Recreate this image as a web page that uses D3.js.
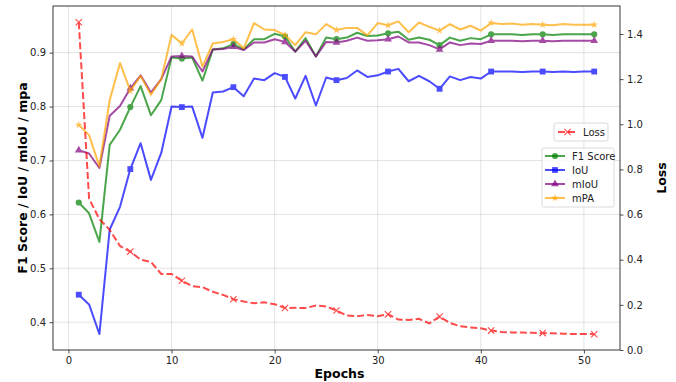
<!DOCTYPE html>
<html>
<head>
<meta charset="utf-8">
<script src="https://cdn.jsdelivr.net/npm/d3@7"></script>
<style>
  body { margin: 0; background: #fff; }
  svg { font-family: "DejaVu Sans", sans-serif; }
</style>
</head>
<body>
<svg id="chart" width="676" height="382"></svg>
<script>
// Data
var epochs = [1,2,3,4,5,6,7,8,9,10,11,12,13,14,15,16,17,18,19,20,21,22,23,24,25,26,
    27,28,29,30,31,32,33,34,35,36,37,38,39,40,41,42,43,44,45,46,47,48,49,50,51];

var f1Score = [0.622,0.602,0.549,0.729,0.757,0.799,0.838,0.784,0.812,0.891,
    0.889,0.891,0.848,0.906,0.908,0.916,0.906,0.925,0.925,0.935,
    0.930,0.902,0.927,0.893,0.928,0.925,0.928,0.937,0.931,0.932,
    0.936,0.939,0.924,0.928,0.924,0.914,0.928,0.922,0.927,0.925,
    0.934,0.934,0.934,0.933,0.934,0.934,0.933,0.934,0.934,0.934,0.934];

var iou = [0.451,0.433,0.378,0.572,0.614,0.684,0.732,0.664,0.714,0.800,
    0.799,0.800,0.742,0.826,0.828,0.836,0.819,0.852,0.849,0.862,
    0.855,0.815,0.857,0.802,0.854,0.849,0.853,0.867,0.855,0.858,
    0.865,0.870,0.847,0.857,0.847,0.833,0.856,0.849,0.855,0.852,
    0.865,0.865,0.865,0.864,0.865,0.865,0.864,0.865,0.864,0.865,0.865];

var miou = [0.719,0.713,0.686,0.783,0.801,0.834,0.858,0.826,0.851,0.893,
    0.894,0.893,0.865,0.906,0.907,0.911,0.905,0.919,0.919,0.925,
    0.920,0.902,0.922,0.893,0.920,0.919,0.922,0.928,0.922,0.923,
    0.925,0.930,0.919,0.919,0.914,0.906,0.919,0.914,0.917,0.916,
    0.922,0.922,0.922,0.921,0.922,0.922,0.921,0.922,0.922,0.922,0.922];

var mpa = [0.766,0.747,0.689,0.812,0.881,0.829,0.857,0.822,0.851,0.933,
    0.917,0.943,0.874,0.917,0.920,0.925,0.908,0.955,0.943,0.942,
    0.933,0.914,0.938,0.934,0.953,0.942,0.946,0.946,0.932,0.955,
    0.951,0.958,0.938,0.956,0.948,0.941,0.953,0.943,0.950,0.941,
    0.955,0.953,0.954,0.952,0.953,0.952,0.951,0.953,0.952,0.952,0.952];

var loss = [1.452,0.670,0.580,0.532,0.461,0.436,0.400,0.390,0.337,0.337,
    0.307,0.283,0.278,0.258,0.244,0.225,0.215,0.207,0.211,0.203,
    0.186,0.187,0.186,0.197,0.193,0.175,0.153,0.150,0.155,0.150,
    0.158,0.135,0.133,0.138,0.118,0.148,0.120,0.105,0.100,0.096,
    0.086,0.080,0.078,0.077,0.076,0.075,0.074,0.072,0.071,0.071,0.070];

var xTicks = [0, 10, 20, 30, 40, 50];
var leftTicks = [0.4, 0.5, 0.6, 0.7, 0.8, 0.9];
var rightTicks = [0.0, 0.2, 0.4, 0.6, 0.8, 1.0, 1.2, 1.4];

var metrics = [
    {name: "F1 Score", values: f1Score, color: "green", symbol: d3.symbolCircle, size: 30},
    {name: "IoU", values: iou, color: "blue", symbol: d3.symbolSquare, size: 34},
    {name: "mIoU", values: miou, color: "purple", symbol: d3.symbolTriangle, size: 26},
    {name: "mPA", values: mpa, color: "orange", symbol: d3.symbolStar, size: 18}
];

// Plot box
var margin = {top: 6, left: 53, right: 56, bottom: 32};
var width = 676 - margin.left - margin.right;
var height = 382 - margin.top - margin.bottom;

var svg = d3.select("#chart");
var g = svg.append("g")
    .attr("transform", `translate(${margin.left}, ${margin.top})`);

var x = d3.scaleLinear().domain([-1.5, 53.5]).range([0, width]);
var y = d3.scaleLinear().domain([0.3484, 0.9866]).range([height, 0]);
var y2 = d3.scaleLinear().domain([0, 1.524]).range([height, 0]);

// grid
g.append("g").selectAll("line").data(xTicks).enter()
    .append("line")
    .attr("x1", d => x(d)).attr("x2", d => x(d))
    .attr("y1", 0).attr("y2", height)
    .attr("stroke", "#b0b0b0").attr("stroke-opacity", 0.35).attr("stroke-width", 1);
g.append("g").selectAll("line").data(leftTicks).enter()
    .append("line")
    .attr("x1", 0).attr("x2", width)
    .attr("y1", d => y(d)).attr("y2", d => y(d))
    .attr("stroke", "#b0b0b0").attr("stroke-opacity", 0.35).attr("stroke-width", 1);

// axes
var xAxis = g.append("g")
    .attr("transform", `translate(0, ${height})`)
    .call(d3.axisBottom(x).tickValues(xTicks).tickSize(3.5).tickPadding(3.5));
var yAxis = g.append("g")
    .call(d3.axisLeft(y).tickValues(leftTicks).tickFormat(d3.format(".1f")).tickSize(3.5).tickPadding(3.5));
var y2Axis = g.append("g")
    .attr("transform", `translate(${width}, 0)`)
    .call(d3.axisRight(y2).tickValues(rightTicks).tickFormat(d3.format(".1f")).tickSize(3.5).tickPadding(3.5));

[xAxis, yAxis, y2Axis].forEach(function(a) {
    a.select(".domain").remove();
    a.selectAll("text").attr("font-size", 10).attr("fill", "#222")
        .attr("font-family", "DejaVu Sans, sans-serif");
    a.selectAll("line").attr("stroke", "#222").attr("stroke-width", 0.8);
});

// metric lines
var line = d3.line()
    .x((d, i) => x(epochs[i]))
    .y(d => y(d));

metrics.forEach(function(m) {
    var s = g.append("g").attr("opacity", 0.7);
    s.append("path")
        .datum(m.values)
        .attr("fill", "none")
        .attr("stroke", m.color)
        .attr("stroke-width", 2)
        .attr("stroke-linejoin", "round")
        .attr("d", line);
    s.selectAll("path.mk")
        .data(m.values.filter((d, i) => i % 5 === 0))
        .enter().append("path")
        .attr("class", "mk")
        .attr("fill", m.color)
        .attr("transform", (d, i) => `translate(${x(epochs[i * 5])}, ${y(d)})`)
        .attr("d", d3.symbol().type(m.symbol).size(m.size));
});

// loss on the twin axis
var lossLine = d3.line()
    .x((d, i) => x(epochs[i]))
    .y(d => y2(d));

var ls = g.append("g").attr("opacity", 0.7);
ls.append("path")
    .datum(loss)
    .attr("fill", "none")
    .attr("stroke", "red")
    .attr("stroke-width", 2)
    .attr("stroke-dasharray", "7,3")
    .attr("d", lossLine);
ls.selectAll("path.mk")
    .data(loss.filter((d, i) => i % 5 === 0))
    .enter().append("path")
    .attr("class", "mk")
    .attr("fill", "none")
    .attr("stroke", "red")
    .attr("stroke-width", 1.1)
    .attr("transform", (d, i) => `translate(${x(epochs[i * 5])}, ${y2(d)})`)
    .attr("d", d3.symbol().type(d3.symbolX).size(28));

// frame
g.append("rect")
    .attr("width", width).attr("height", height)
    .attr("fill", "none").attr("stroke", "#222").attr("stroke-width", 0.9);

// axis labels
svg.append("text")
    .attr("x", margin.left + width / 2 + 3).attr("y", 378)
    .attr("text-anchor", "middle")
    .attr("font-size", 12.5).attr("font-weight", "bold")
    .text("Epochs");
svg.append("text")
    .attr("transform", `translate(27, ${margin.top + height / 2}) rotate(-90)`)
    .attr("text-anchor", "middle")
    .attr("font-size", 12.5).attr("font-weight", "bold")
    .text("F1 Score / IoU / mIoU / mpa");
svg.append("text")
    .attr("transform", `translate(666, ${margin.top + height / 2}) rotate(-90)`)
    .attr("text-anchor", "middle")
    .attr("font-size", 12.5).attr("font-weight", "bold")
    .text("Loss");

// legends
function legendBox(x0, y0, w, h) {
    svg.append("rect")
        .attr("x", x0).attr("y", y0).attr("width", w).attr("height", h)
        .attr("rx", 2)
        .attr("fill", "white").attr("fill-opacity", 0.8)
        .attr("stroke", "#d0d0d0").attr("stroke-width", 0.8);
}

legendBox(554, 123, 54, 18);
var lg1 = svg.append("g").attr("transform", "translate(558, 132)");
lg1.append("line").attr("x1", 0).attr("x2", 19)
    .attr("stroke", "red").attr("stroke-opacity", 0.7)
    .attr("stroke-width", 2).attr("stroke-dasharray", "7,3");
lg1.append("path").attr("transform", "translate(9.5, 0)")
    .attr("d", d3.symbol().type(d3.symbolX).size(28))
    .attr("fill", "none").attr("stroke", "red").attr("stroke-opacity", 0.7).attr("stroke-width", 1.1);
lg1.append("text").attr("x", 25).attr("y", 3.5)
    .attr("font-size", 10).attr("fill", "#222").text("Loss");

legendBox(542, 148, 72, 59);
metrics.forEach(function(m, i) {
    var e = svg.append("g").attr("transform", `translate(545, ${156 + i * 14})`);
    e.append("line").attr("x1", 0).attr("x2", 20)
        .attr("stroke", m.color).attr("stroke-opacity", 0.7).attr("stroke-width", 2);
    e.append("path").attr("transform", "translate(10, 0)")
        .attr("d", d3.symbol().type(m.symbol).size(m.size))
        .attr("fill", m.color).attr("fill-opacity", 0.7);
    e.append("text").attr("x", 27).attr("y", 3.5)
        .attr("font-size", 10).attr("fill", "#222").text(m.name);
});
</script>
</body>
</html>
